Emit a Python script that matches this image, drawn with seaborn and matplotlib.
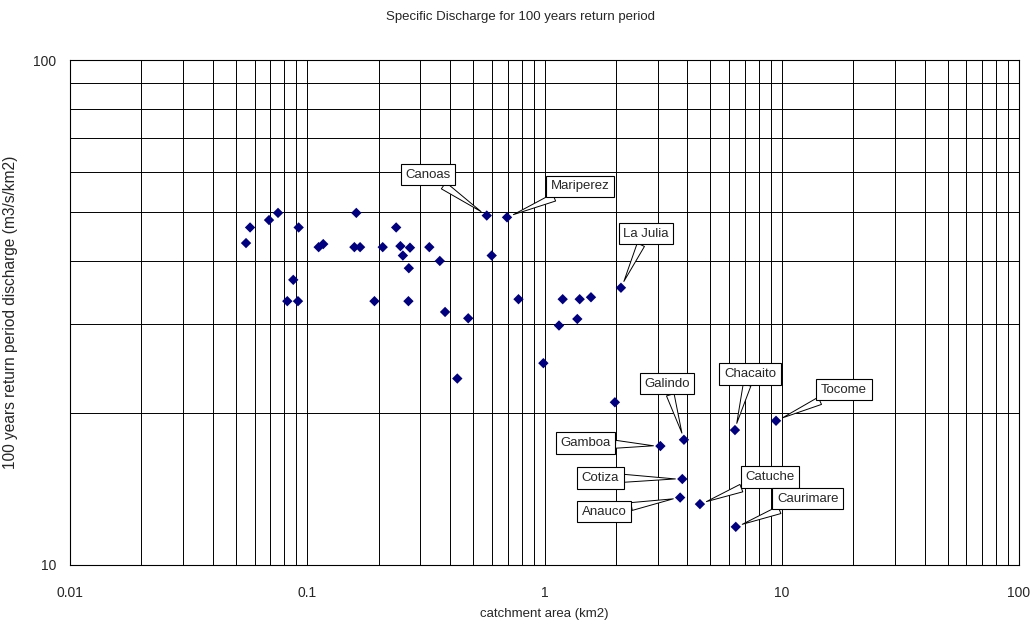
import pandas as pd
import matplotlib
matplotlib.use("Agg")
import matplotlib.pyplot as plt
import seaborn as sns
from matplotlib.ticker import FixedLocator, FixedFormatter, LogLocator, NullFormatter

sns.set_style("white")
plt.rcParams['font.family'] = ['Liberation Sans', 'DejaVu Sans']

# catchment area (km2) and specific discharge (m3/s/km2)
area = [0.0552, 0.0574, 0.069, 0.0753, 0.092, 0.0873, 0.0824, 0.0914,
        0.1117, 0.1168, 0.161, 0.158, 0.167, 0.192, 0.208, 0.237,
        0.247, 0.253, 0.271, 0.268, 0.267, 0.327, 0.362, 0.381,
        0.429, 0.477, 0.571, 0.599, 0.695, 0.777, 0.989, 1.151,
        1.193, 1.375, 1.407, 1.57, 2.10, 1.98, 3.08, 3.87,
        3.81, 3.73, 4.52, 6.35, 6.40, 9.46]
discharge = [43.4, 46.6, 48.2, 49.8, 46.6, 36.7, 33.3, 33.3,
             42.6, 43.2, 49.8, 42.6, 42.6, 33.3, 42.6, 46.6,
             42.8, 41.0, 42.5, 38.7, 33.3, 42.6, 40.0, 31.7,
             23.4, 30.8, 49.2, 41.0, 48.8, 33.6, 25.1, 29.8,
             33.6, 30.7, 33.6, 33.9, 35.4, 21.0, 17.2, 17.7,
             14.8, 13.6, 13.2, 18.5, 11.9, 19.3]

# named stations: (index in the arrays, label)
stations = ['Canoas', 'Mariperez', 'La Julia', 'Galindo', 'Chacaito', 'Tocome',
            'Gamboa', 'Cotiza', 'Anauco', 'Catuche', 'Caurimare']
station_idx = [26, 28, 36, 39, 43, 45, 38, 40, 41, 42, 44]
# label box offset from the point, in pixels
label_dx = [-59, 73, 25, -17, 15, 68, -75, -82, -76, 70, 72]
label_dy = [41, 31, 54, 56, 56, 31, 3, 1, -14, 27, 28]

df = pd.DataFrame({'area': area, 'discharge': discharge})

fig = plt.figure(figsize=(10.34, 6.25), dpi=100)
ax = fig.add_axes([70 / 1034, 1 - 565 / 625, 949 / 1034, 505 / 625])

ax.set_xscale('log')
ax.set_yscale('log')
ax.set_xlim(0.01, 100)
ax.set_ylim(10, 100)

ax.xaxis.set_major_locator(FixedLocator([0.01, 0.1, 1, 10, 100]))
ax.xaxis.set_major_formatter(FixedFormatter(['0.01', '0.1', '1', '10', '100']))
ax.xaxis.set_minor_locator(LogLocator(base=10, subs=range(2, 10)))
ax.xaxis.set_minor_formatter(NullFormatter())
ax.yaxis.set_major_locator(FixedLocator([10, 100]))
ax.yaxis.set_major_formatter(FixedFormatter(['10', '100']))
ax.yaxis.set_minor_locator(LogLocator(base=10, subs=range(2, 10)))
ax.yaxis.set_minor_formatter(NullFormatter())

ax.grid(which='both', color='black', linewidth=0.7)
ax.set_axisbelow(True)
ax.tick_params(which='both', length=0)
ax.tick_params(axis='x', pad=15, labelsize=10)
ax.tick_params(axis='y', pad=10, labelsize=10)
for sp in ax.spines.values():
    sp.set_color('black')
    sp.set_linewidth(0.8)

sns.scatterplot(data=df, x='area', y='discharge', marker='D', s=28,
                color='#000080', edgecolor='none', ax=ax, zorder=3)

for name, i, dx, dy in zip(stations, station_idx, label_dx, label_dy):
    ax.annotate(name, xy=(area[i], discharge[i]), xytext=(dx, dy),
                textcoords='offset pixels', ha='center', va='center',
                fontsize=9.5, zorder=5,
                bbox=dict(boxstyle='square,pad=0.35', fc='white', ec='black', lw=0.8),
                arrowprops=dict(arrowstyle='wedge,tail_width=0.6', fc='white',
                                ec='black', lw=0.7, shrinkA=0, shrinkB=5))

ax.set_xlabel('catchment area (km2)', fontsize=9.5, labelpad=6)
ax.set_ylabel('100 years return period discharge (m3/s/km2)', fontsize=11.2, labelpad=4)
ax.yaxis.set_label_coords(-(70 - 18) / 949, (565 - 312) / 505)
fig.text(0.503, 0.973, 'Specific Discharge for 100 years return period',
         ha='center', va='center', fontsize=9.5)

fig.savefig('out.png', dpi=100)
